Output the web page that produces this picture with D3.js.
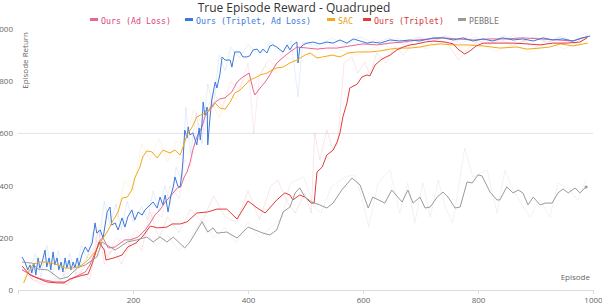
<!DOCTYPE html>
<html><head><meta charset="utf-8">
<script src="https://cdn.jsdelivr.net/npm/d3@7"></script>
<style>html,body{margin:0;padding:0;background:#fff;}svg{display:block;}</style>
</head><body><svg id="c" width="602" height="304"></svg>
<script>
// ---- data ----
const seriesNames = ["Ours (Ad Loss)", "Ours (Triplet, Ad Loss)", "SAC", "Ours (Triplet)", "PEBBLE"];
const xTicks = [200, 400, 600, 800, 1000];
const yTicks = [0, 200, 400, 600, 800, 1000];

const pinkLine = [[7,77],[30,50],[47,38],[64,31],[82,31],[99,50],[117,69],[125,96],[134,142],[143,192],[148,199],[157,161],[169,165],[186,192],[195,192],[209,203],[221,230],[230,257],[238,287],[247,307],[256,337],[264,356],[277,391],[283,395],[289,433],[294,452],[299,487],[304,536],[311,586],[320,625],[325,663],[334,697],[343,720],[351,732],[360,736],[372,759],[381,797],[391,816],[402,831],[409,766],[412,747],[421,774],[430,797],[438,824],[450,870],[468,904],[485,931],[503,927],[520,923],[537,927],[555,927],[577,935],[600,943],[624,939],[647,946],[670,950],[694,958],[717,962],[739,966],[763,962],[791,958],[821,962],[850,962],[878,966],[908,962],[937,958],[965,954],[983,966],[991,969]];

const blueLine = [[7,126],[12,107],[17,77],[21,96],[24,65],[28,103],[31,57],[35,123],[38,84],[42,107],[47,153],[50,88],[54,123],[57,77],[61,146],[64,96],[68,123],[71,77],[75,107],[78,69],[82,123],[85,84],[89,115],[92,77],[96,107],[99,84],[103,123],[106,92],[111,134],[117,165],[122,146],[129,180],[134,257],[137,218],[143,230],[148,199],[155,299],[160,318],[163,249],[169,257],[174,230],[181,276],[186,241],[191,280],[198,307],[203,268],[209,299],[216,287],[221,307],[226,318],[235,337],[242,314],[247,356],[252,326],[256,364],[261,299],[266,364],[270,395],[273,433],[278,398],[282,395],[285,448],[287,498],[290,613],[294,582],[296,625],[299,594],[304,602],[311,556],[315,621],[317,575],[320,640],[322,720],[325,670],[329,701],[330,556],[334,663],[337,728],[343,797],[346,774],[351,824],[355,893],[360,881],[369,881],[372,854],[377,912],[386,912],[391,893],[398,893],[403,897],[409,920],[416,923],[421,908],[426,923],[433,908],[438,935],[443,939],[450,931],[456,920],[461,912],[468,939],[473,920],[478,939],[485,950],[487,870],[490,927],[496,939],[503,946],[513,950],[525,943],[537,950],[548,946],[560,958],[572,946],[583,962],[595,954],[607,946],[617,950],[630,946],[647,958],[664,954],[682,958],[699,954],[722,966],[739,966],[757,958],[774,966],[791,954],[809,962],[826,954],[843,966],[861,958],[878,962],[896,954],[913,966],[930,958],[948,962],[965,954],[981,966],[995,973]];

const orangeLine = [[10,27],[17,65],[26,96],[35,107],[47,107],[59,103],[70,96],[82,84],[94,84],[103,88],[111,96],[122,115],[134,146],[146,192],[155,222],[163,257],[174,299],[181,352],[190,356],[198,383],[203,429],[212,471],[217,510],[224,533],[233,529],[242,506],[252,536],[264,525],[273,536],[282,517],[287,548],[294,594],[303,625],[311,663],[317,670],[325,678],[334,690],[343,716],[351,697],[360,693],[369,720],[377,755],[386,766],[395,785],[403,805],[412,812],[421,824],[433,831],[442,843],[450,851],[461,854],[473,870],[485,881],[499,900],[508,908],[520,889],[530,893],[546,900],[560,893],[574,908],[590,912],[612,912],[630,916],[647,923],[664,927],[682,927],[699,931],[717,939],[734,943],[757,939],[781,939],[809,935],[838,927],[868,931],[885,923],[908,927],[925,931],[943,943],[965,935],[983,943],[991,946]];

const redLine = [[7,92],[21,57],[33,46],[50,31],[68,27],[80,27],[90,42],[108,54],[122,61],[130,107],[141,184],[150,153],[153,115],[167,123],[181,134],[191,165],[205,180],[216,203],[230,245],[243,238],[259,241],[268,253],[282,253],[294,261],[311,295],[330,299],[346,310],[363,310],[381,272],[400,341],[416,314],[430,295],[450,345],[464,372],[473,364],[478,345],[490,364],[499,356],[510,333],[515,333],[520,452],[529,471],[537,517],[548,536],[555,567],[560,602],[565,663],[572,716],[577,774],[590,789],[598,816],[607,824],[612,820],[621,862],[633,885],[647,900],[659,920],[670,931],[682,939],[694,943],[708,950],[722,954],[743,950],[757,943],[765,923],[777,904],[786,916],[797,935],[809,946],[838,946],[861,946],[885,943],[908,939],[930,946],[955,946],[977,950],[990,966]];

const grayLine = [[7,107],[24,103],[35,80],[52,77],[73,42],[87,50],[103,84],[117,96],[137,126],[146,184],[155,172],[169,153],[190,184],[207,192],[224,203],[235,184],[247,203],[259,184],[270,203],[290,161],[299,184],[320,261],[330,222],[339,238],[346,218],[363,222],[381,199],[400,241],[426,218],[438,211],[450,230],[461,299],[473,318],[482,372],[490,391],[499,356],[511,337],[525,326],[537,314],[548,333],[563,383],[581,429],[595,402],[609,314],[617,356],[638,333],[650,383],[668,337],[678,383],[687,333],[699,356],[708,314],[717,318],[729,356],[739,375],[748,356],[760,314],[769,318],[781,414],[790,410],[800,441],[807,437],[821,375],[833,345],[838,345],[850,395],[861,372],[870,383],[878,372],[887,326],[896,356],[908,326],[917,333],[929,333],[939,372],[948,387],[957,372],[969,391],[977,372],[988,395]];

// faint raw traces
const pinkRaw = [[7,90],[25,40],[45,30],[65,45],[85,20],[105,60],[125,110],[140,230],[155,130],[170,200],[190,170],[205,230],[220,200],[235,300],[250,280],[265,400],[280,350],[290,500],[300,470],[312,640],[325,610],[340,760],[355,700],[370,800],[385,770],[400,870],[410,600],[420,820],[435,880],[450,860],[465,930],[480,910],[500,950],[520,920],[540,950],[560,930],[580,955],[600,935],[620,960],[640,940],[660,965],[680,945],[700,970],[720,950],[740,975],[760,950],[780,970],[800,945],[820,970],[840,950],[860,975],[880,955],[900,970],[920,945],[940,970],[960,950],[975,965],[990,990]];
const blueRaw = [[7,130],[20,60],[30,140],[40,50],[50,170],[60,60],[70,150],[80,50],[90,140],[100,60],[110,170],[120,120],[130,220],[140,170],[150,340],[160,250],[170,330],[180,230],[190,340],[200,260],[215,320],[225,270],[235,380],[245,300],[255,400],[265,330],[275,470],[285,420],[292,700],[300,520],[310,680],[320,560],[330,790],[340,700],[350,900],[360,840],[370,930],[385,890],[400,940],[420,900],[440,950],[460,910],[475,955],[487,740],[495,950],[520,935],[545,965],[570,940],[595,970],[620,945],[645,965],[670,940],[695,970],[720,950],[745,975],[770,945],[795,970],[820,950],[845,975],[870,945],[895,970],[920,950],[945,972],[970,948],[995,978]];
const orangeRaw = [[7,20],[20,100],[35,130],[50,90],[65,120],[80,70],[95,110],[110,70],[125,150],[140,130],[155,280],[170,240],[185,420],[200,380],[215,560],[230,500],[245,580],[260,490],[275,570],[290,560],[305,690],[320,640],[335,730],[350,660],[365,760],[380,730],[395,820],[410,780],[430,860],[450,830],[470,890],[490,870],[510,910],[530,880],[560,920],[590,900],[620,930],[650,910],[680,940],[710,925],[740,950],[770,930],[800,945],[830,915],[860,940],[890,910],[920,945],[950,925],[980,950]];
const redRaw = [[7,80],[25,40],[45,20],[65,35],[85,20],[105,70],[125,40],[140,230],[150,100],[165,160],[180,100],[200,200],[215,150],[230,300],[245,200],[260,280],[280,220],[300,310],[320,260],[340,360],[360,280],[380,260],[400,380],[420,270],[440,400],[452,420],[470,330],[482,295],[499,370],[510,295],[516,602],[525,498],[537,613],[548,536],[556,560],[567,870],[581,893],[591,831],[603,874],[612,824],[624,908],[640,870],[655,935],[670,900],[690,960],[710,930],[730,965],[750,935],[766,881],[780,920],[800,955],[820,940],[840,960],[860,935],[880,955],[900,930],[920,960],[940,940],[960,955],[975,935],[990,980]];
const grayRaw = [[7,100],[25,60],[45,95],[65,40],[90,70],[115,110],[140,180],[160,140],[180,200],[200,160],[220,230],[240,170],[260,210],[280,150],[300,200],[320,270],[340,200],[360,240],[380,180],[400,260],[420,200],[440,240],[460,280],[473,410],[497,433],[515,318],[527,295],[545,395],[568,433],[585,441],[598,356],[610,241],[626,410],[647,460],[664,295],[678,410],[690,257],[704,410],[717,280],[731,421],[743,318],[756,257],[777,544],[791,433],[816,460],[833,295],[847,460],[861,383],[890,280],[908,345],[925,280],[939,410],[960,383],[973,345],[988,421]];

// ---- drawing ----
const colors = ["#e8678e", "#3b78dc", "#f0a91c", "#e03b3b", "#9a9a9a"];
const lines = [pinkLine, blueLine, orangeLine, redLine, grayLine];
const raws = [pinkRaw, blueRaw, orangeRaw, redRaw, grayRaw];

const svg = d3.select("#c");
const x = d3.scaleLinear().domain([0, 1000]).range([18, 593]);
const y = d3.scaleLinear().domain([0, 1000]).range([290, 29]);

// gridline at 600
svg.append("line").attr("x1", x(0)).attr("x2", x(1000)).attr("y1", y(600)).attr("y2", y(600))
  .attr("stroke", "#e2e2ea").attr("stroke-width", 1);

// x axis
const xAxis = d3.axisBottom(x).tickValues(xTicks).tickSize(4).tickPadding(3).tickFormat(d3.format("d"));
const gx = svg.append("g").attr("transform", `translate(0,${y(0)})`).call(xAxis);
gx.select(".domain").attr("stroke", "#dcdcdc");
gx.selectAll(".tick line").attr("stroke", "#dcdcdc");
gx.selectAll(".tick text").attr("fill", "#666").attr("font-size", 8).attr("font-family", "Open Sans");

// y axis labels
const yAxis = d3.axisLeft(y).tickValues(yTicks).tickSize(0).tickPadding(0).tickFormat(d3.format("d"));
const gy = svg.append("g").attr("transform", "translate(13,0)").call(yAxis);
gy.select(".domain").remove();
gy.selectAll(".tick text").attr("fill", "#666").attr("font-size", 8).attr("font-family", "Open Sans");

// axis names
svg.append("text").attr("x", 590).attr("y", 280).attr("text-anchor", "end")
  .attr("font-family", "Open Sans").attr("font-size", 8).attr("fill", "#666").text("Episode");
svg.append("text").attr("transform", "translate(28,32) rotate(-90)").attr("text-anchor", "end")
  .attr("font-family", "Open Sans").attr("font-size", 8).attr("fill", "#666").text("Episode Return");

const line = d3.line().x(d => x(d[0])).y(d => y(d[1]));

raws.forEach((r, i) => {
  svg.append("path").datum(r).attr("d", line).attr("fill", "none")
    .attr("stroke", colors[i]).attr("stroke-opacity", 0.13).attr("stroke-width", 1);
});
lines.forEach((l, i) => {
  svg.append("path").datum(l).attr("d", line).attr("fill", "none")
    .attr("stroke", colors[i]).attr("stroke-width", 1);
});
// end marker of PEBBLE
const gl = grayLine[grayLine.length - 1];
svg.append("circle").attr("cx", x(gl[0])).attr("cy", y(gl[1])).attr("r", 1.5).attr("fill", colors[4]);

// title
svg.append("text").attr("x", 294).attr("y", 12).attr("text-anchor", "middle")
  .attr("font-family", "Open Sans").attr("font-size", 12).attr("font-weight", 500).attr("fill", "#333")
  .text("True Episode Reward - Quadruped");

// legend
const legendX = [90, 185, 327, 363, 458];
const textColors = ["#e0457a", "#3b78dc", "#e8a010", "#d83434", "#777"];
seriesNames.forEach((n, i) => {
  const g = svg.append("g").attr("transform", `translate(${legendX[i]},20)`);
  g.append("rect").attr("x", 0).attr("y", -2).attr("width", 8).attr("height", 3).attr("fill", colors[i]);
  g.append("text").attr("x", 11).attr("y", 3.5).attr("font-family", "DejaVu Sans Mono").attr("font-size", 8.3)
    .attr("fill", textColors[i]).text(n);
});
</script></body></html>
